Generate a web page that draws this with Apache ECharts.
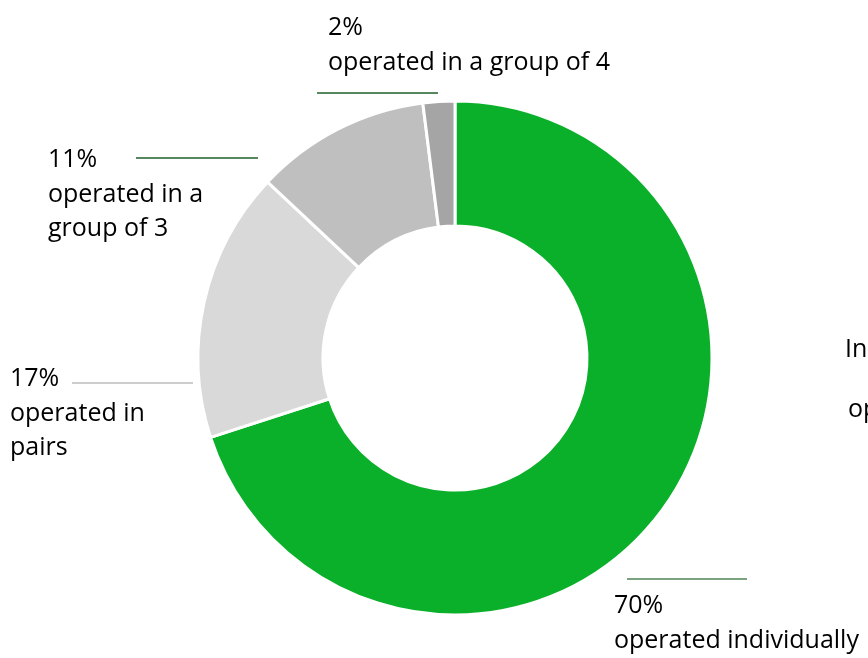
<!DOCTYPE html>
<html>
<head>
<meta charset="utf-8">
<script src="https://cdn.jsdelivr.net/npm/echarts@6/dist/echarts.min.js"></script>
<style>
  html, body { margin: 0; padding: 0; background: #ffffff; }
  #chart { width: 868px; height: 658px; }
</style>
</head>
<body>
<div id="chart"></div>
<script>
// Share of operations by crew size
const groupNames = [
  'operated individually',
  'operated in\npairs',
  'operated in a\ngroup of 3',
  'operated in a group of 4'
];
const shares = [70, 17, 11, 2];
const sliceColors = ['#0bb02a', '#d9d9d9', '#bfbfbf', '#a5a5a5'];
const leaderColors = ['#4f8556', '#bdbdbd', '#1f5f2a', '#1f5f2a'];

// Label block placement (top-left of text) and leader line segments
const labelSpots = [
  { x: 614, y: 589, line: [[627, 579], [747, 579]] },
  { x: 10,  y: 362, line: [[72, 383], [193, 383]] },
  { x: 48,  y: 143, line: [[136, 158], [258, 158]] },
  { x: 328, y: 11,  line: [[317, 93], [438, 93]] }
];

const fontFamily = '"Open Sans", "Noto Sans", sans-serif';
const fontSize = 25;

const chart = echarts.init(document.getElementById('chart'), null, { renderer: 'canvas' });

chart.setOption({
  animation: false,
  backgroundColor: '#ffffff',
  series: [{
    type: 'pie',
    center: [455, 358],
    radius: [132, 257],
    startAngle: 90,
    clockwise: true,
    avoidLabelOverlap: false,
    itemStyle: { borderColor: '#ffffff', borderWidth: 3 },
    emphasis: { disabled: true },
    label: {
      show: true,
      position: 'outside',
      formatter: p => p.value + '%\n' + p.name,
      color: '#000000',
      fontFamily: fontFamily,
      fontSize: fontSize,
      lineHeight: 34.5,
      align: 'left'
    },
    labelLine: { show: true, lineStyle: { width: 1.3 } },
    labelLayout: params => {
      const s = labelSpots[params.dataIndex];
      return {
        x: s.x,
        y: s.y,
        align: 'left',
        verticalAlign: 'top',
        labelLinePoints: s.line
      };
    },
    data: shares.map((v, i) => ({
      value: v,
      name: groupNames[i],
      itemStyle: { color: sliceColors[i] },
      labelLine: { lineStyle: { color: leaderColors[i] } }
    }))
  }],
  graphic: [
    { type: 'text', left: 845, top: 337, style: { text: 'In', font: fontSize + 'px ' + fontFamily, fill: '#000' } },
    { type: 'text', left: 848, top: 397, style: { text: 'op', font: fontSize + 'px ' + fontFamily, fill: '#000' } }
  ]
});
</script>
</body>
</html>
